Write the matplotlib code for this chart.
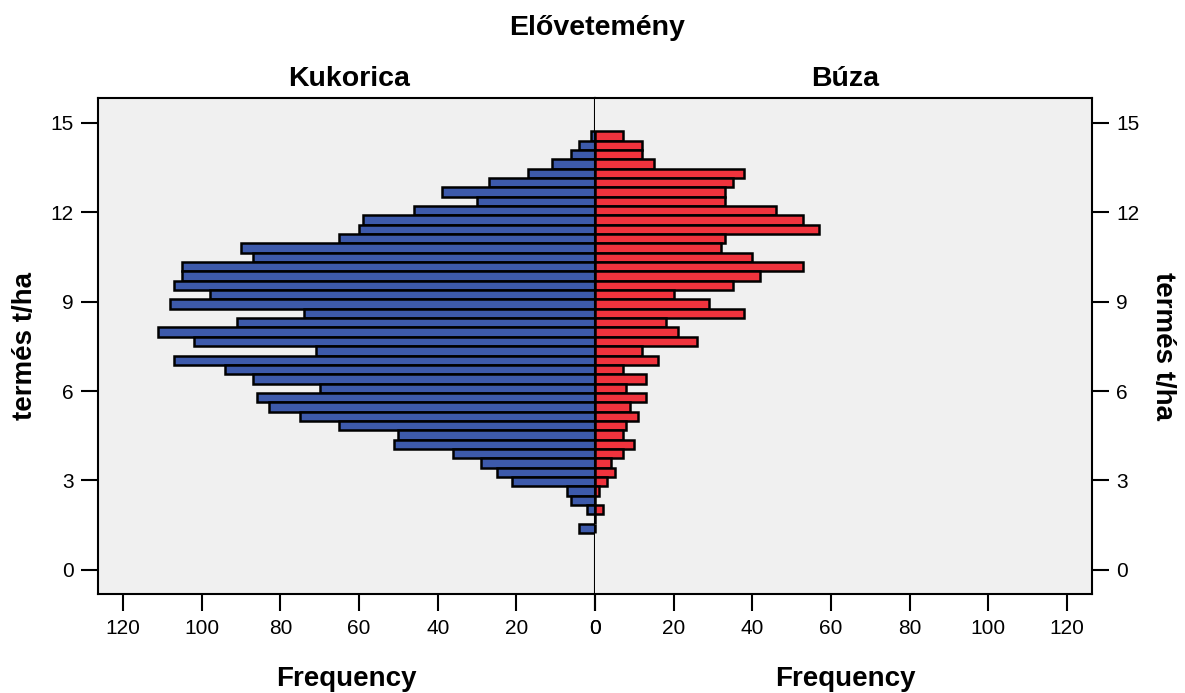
import matplotlib
matplotlib.use("Agg")
import matplotlib.pyplot as plt
import numpy as np

plt.rcParams['font.family'] = ['Liberation Sans', 'DejaVu Sans']

# Histogram data (counts per bin, listed from the top bin down to the bottom bin)
kukorica_counts = [1, 4, 6, 11, 17, 27, 39, 30, 46, 59, 60, 65, 90, 87, 105,
                   105, 107, 98, 108, 74, 91, 111, 102, 71, 107, 94, 87, 70, 86, 83,
                   75, 65, 50, 51, 36, 29, 25, 21, 7, 6, 2, 0, 4]
buza_counts = [7, 12, 12, 15, 38, 35, 33, 33, 46, 53, 57, 33, 32, 40, 53,
               42, 35, 20, 29, 38, 18, 21, 26, 12, 16, 7, 13, 8, 13, 9,
               11, 8, 7, 10, 7, 4, 5, 3, 1, 0, 2, 0, 0]
bin_top = 14.71
bin_width = 0.3133
y_ticks = [0, 3, 6, 9, 12, 15]
x_ticks = [0, 20, 40, 60, 80, 100, 120]
group_labels = ["Kukorica", "Búza"]
title = "Elővetemény"
y_label = "termés t/ha"
x_label = "Frequency"

n = len(kukorica_counts)
centers = bin_top - bin_width * (np.arange(n) + 0.5)

W, H = 1185, 693
fig = plt.figure(figsize=(W / 100, H / 100), dpi=100)

left_px, mid_px, right_px = 98.3, 595.0, 1092.0
top_px, bot_px = 98.0, 594.3

def fx(px):
    return px / W

def fy(py):
    return 1 - py / H

axL = fig.add_axes([fx(left_px), fy(bot_px), fx(mid_px) - fx(left_px), fy(top_px) - fy(bot_px)])
axR = fig.add_axes([fx(mid_px), fy(bot_px), fx(right_px) - fx(mid_px), fy(top_px) - fy(bot_px)])

bg = '#f0f0f0'
blue = '#3d5aab'
red = '#f0333d'

for ax, counts, color in [(axL, kukorica_counts, blue), (axR, buza_counts, red)]:
    ax.set_facecolor(bg)
    ax.barh(centers, counts, height=bin_width, color=color, edgecolor='black',
            linewidth=1.8, zorder=2)
    ax.set_ylim(-0.82, 15.83)
    ax.set_xticks(x_ticks)
    ax.set_xticklabels([str(v) for v in x_ticks])
    ax.set_yticks(y_ticks)
    ax.tick_params(axis='both', direction='out', length=12.5, width=1.5,
                   labelsize=15, pad=5, color='black')
    for s in ax.spines.values():
        s.set_linewidth(1.5)
        s.set_color('black')
        s.set_zorder(5)

axL.set_xlim(126.3, 0)
axR.set_xlim(0, 126.4)
axL.yaxis.tick_left()
axR.yaxis.tick_right()
axR.spines['left'].set_visible(False)
axL.spines['right'].set_linewidth(1.5)

fig.text(fx(597), fy(28), title, ha='center', va='center', fontsize=20.5, fontweight='bold')
fig.text(fx(349), fy(79), group_labels[0], ha='center', va='center', fontsize=20.5, fontweight='bold')
fig.text(fx(845), fy(79), group_labels[1], ha='center', va='center', fontsize=20.5, fontweight='bold')
fig.text(fx(346), fy(679), x_label, ha='center', va='center', fontsize=20, fontweight='bold')
fig.text(fx(845), fy(679), x_label, ha='center', va='center', fontsize=20, fontweight='bold')
fig.text(fx(25), fy(346), y_label, ha='center', va='center', rotation=90, fontsize=20, fontweight='bold')
fig.text(fx(1163), fy(346), y_label, ha='center', va='center', rotation=270, fontsize=20, fontweight='bold')

fig.savefig('out.png', dpi=100, facecolor='white')
